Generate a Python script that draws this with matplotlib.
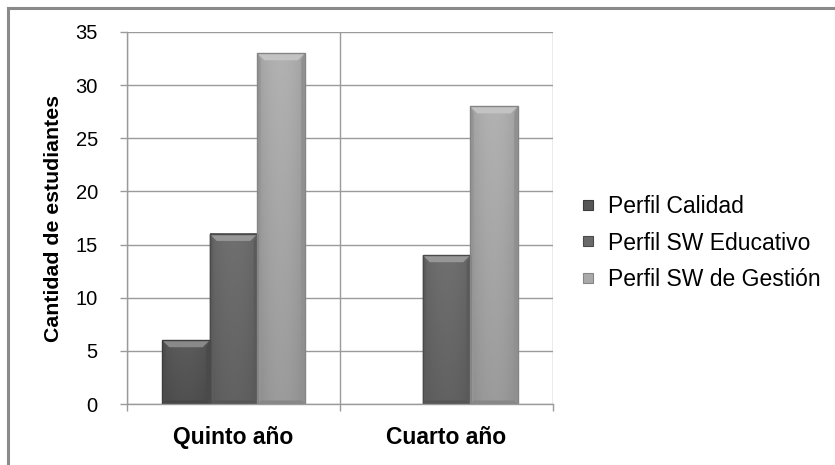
import numpy as np
import matplotlib
matplotlib.use("Agg")
import matplotlib.pyplot as plt
from matplotlib.patches import Polygon
from matplotlib.lines import Line2D
from matplotlib.colors import to_rgb

# Data
categories = ["Quinto año", "Cuarto año"]
series_names = ["Perfil Calidad", "Perfil SW Educativo", "Perfil SW de Gestión"]
perfil_calidad = [6, 0]
perfil_sw_educativo = [16, 14]
perfil_sw_gestion = [33, 28]
y_ticks = [0, 5, 10, 15, 20, 25, 30, 35]
y_label = "Cantidad de estudiantes"

series_values = [perfil_calidad, perfil_sw_educativo, perfil_sw_gestion]
base_colors = ["#575757", "#6a6a6a", "#a9a9a9"]
edge_colors = ["#3c3c3c", "#4a4a4a", "#858585"]

plt.rcParams["font.family"] = ["Liberation Sans", "DejaVu Sans"]

W, H = 835, 465
fig = plt.figure(figsize=(W / 100, H / 100), dpi=100)
fig.patch.set_facecolor("white")

# outer frame (top and left edges)
frame_c = "#8a8a8a"
fig.add_artist(Line2D([7.5 / W, 7.5 / W], [0, 1 - 8.5 / H], color=frame_c, lw=2.2,
                      transform=fig.transFigure))
fig.add_artist(Line2D([7.5 / W, 1], [1 - 8.5 / H, 1 - 8.5 / H], color=frame_c, lw=2.2,
                      transform=fig.transFigure))

ax = fig.add_axes([127 / W, 61 / H, 426 / W, 372 / H])
ax.set_xlim(-0.5, 1.5)
ax.set_ylim(0, 35)

x = np.arange(len(categories))
bar_w = 0.223
offsets = [-bar_w, 0.0, bar_w]

grid_c = "#9a9a9a"
ax.set_axisbelow(True)
ax.yaxis.grid(True, color=grid_c, lw=1.0)
ax.set_yticks(y_ticks)
ax.set_xticks(x)
ax.set_xticks([-0.5, 0.5, 1.5], minor=True)
ax.xaxis.grid(True, which="minor", color=grid_c, lw=1.0)
ax.set_xticklabels(categories, fontsize=16.5, fontweight="bold")
ax.tick_params(axis="x", which="major", length=0, pad=16)
ax.tick_params(axis="x", which="minor", length=5, color=grid_c, width=1.0)
ax.tick_params(axis="y", length=5, color=grid_c, width=1.0, labelsize=14.5, pad=16)
for side in ["top", "right"]:
    ax.spines[side].set_visible(False)
for side in ["left", "bottom"]:
    ax.spines[side].set_color(grid_c)
    ax.spines[side].set_linewidth(1.0)
ax.set_ylabel(y_label, fontsize=15.3, fontweight="bold", labelpad=9)

# data units per pixel
px_x = 2.0 / 426
px_y = 35.0 / 372


def shade(rgb, f):
    rgb = np.asarray(rgb)
    if f >= 1:
        return tuple(rgb + (1 - rgb) * (f - 1))
    return tuple(rgb * f)


for vals, name, bc, ec, off in zip(series_values, series_names, base_colors, edge_colors, offsets):
    bars = ax.bar(x + off, vals, width=bar_w, color=bc, edgecolor="none", linewidth=0,
                  label=name, zorder=2)
    base = to_rgb(bc)
    for b in bars:
        h = b.get_height()
        if h <= 0:
            continue
        x0 = b.get_x()
        x1 = x0 + b.get_width()
        # body gradient: lighter toward the top and toward the middle
        nx, ny = 60, 100
        u = np.linspace(0, 1, nx)
        v = np.linspace(0, 1, ny)[:, None]
        hor = 1 - 0.10 * np.abs(2 * u - 1) ** 2
        ver = 0.92 + 0.13 * v
        fac = hor[None, :] * ver
        img = np.clip(np.asarray(base)[None, None, :] * fac[:, :, None], 0, 1)
        ax.imshow(img, extent=[x0, x1, 0, h], origin="lower", aspect="auto",
                  interpolation="bilinear", zorder=2.1)
        bx = 7 * px_x
        by = 7 * px_y
        # top bevel
        ax.add_patch(Polygon([(x0, h), (x1, h), (x1 - bx, h - by), (x0 + bx, h - by)],
                             closed=True, facecolor=shade(base, 1.3), edgecolor="none",
                             zorder=2.2))
        # side bevels
        ax.add_patch(Polygon([(x0, h), (x0 + bx * 0.5, h - by), (x0 + bx * 0.5, by * 0.5), (x0, 0)],
                             closed=True, facecolor=shade(base, 0.88), edgecolor="none",
                             zorder=2.2))
        ax.add_patch(Polygon([(x1, h), (x1 - bx * 0.5, h - by), (x1 - bx * 0.5, by * 0.5), (x1, 0)],
                             closed=True, facecolor=shade(base, 0.85), edgecolor="none",
                             zorder=2.2))
        # bottom bevel
        ax.add_patch(Polygon([(x0, 0), (x1, 0), (x1 - bx * 0.5, by * 0.5), (x0 + bx * 0.5, by * 0.5)],
                             closed=True, facecolor=shade(base, 0.80), edgecolor="none",
                             zorder=2.2))
        ax.add_patch(plt.Rectangle((x0, 0), x1 - x0, h, facecolor="none", edgecolor=ec,
                                   linewidth=1.0, zorder=2.3))

ax.set_xlim(-0.5, 1.5)
ax.set_ylim(0, 35)

handles = [Line2D([], [], marker="s", linestyle="none", markersize=6.5,
                  markerfacecolor=bc, markeredgecolor=ec, markeredgewidth=0.8)
           for bc, ec in zip(base_colors, edge_colors)]
fig.legend(handles, series_names, loc="center left", bbox_to_anchor=(582 / W, 1 - 243 / H),
           frameon=False, fontsize=16.5, handlelength=0.5, handletextpad=0.64,
           labelspacing=0.6, borderaxespad=0, borderpad=0)

fig.savefig("out.png", dpi=100, facecolor="white")
